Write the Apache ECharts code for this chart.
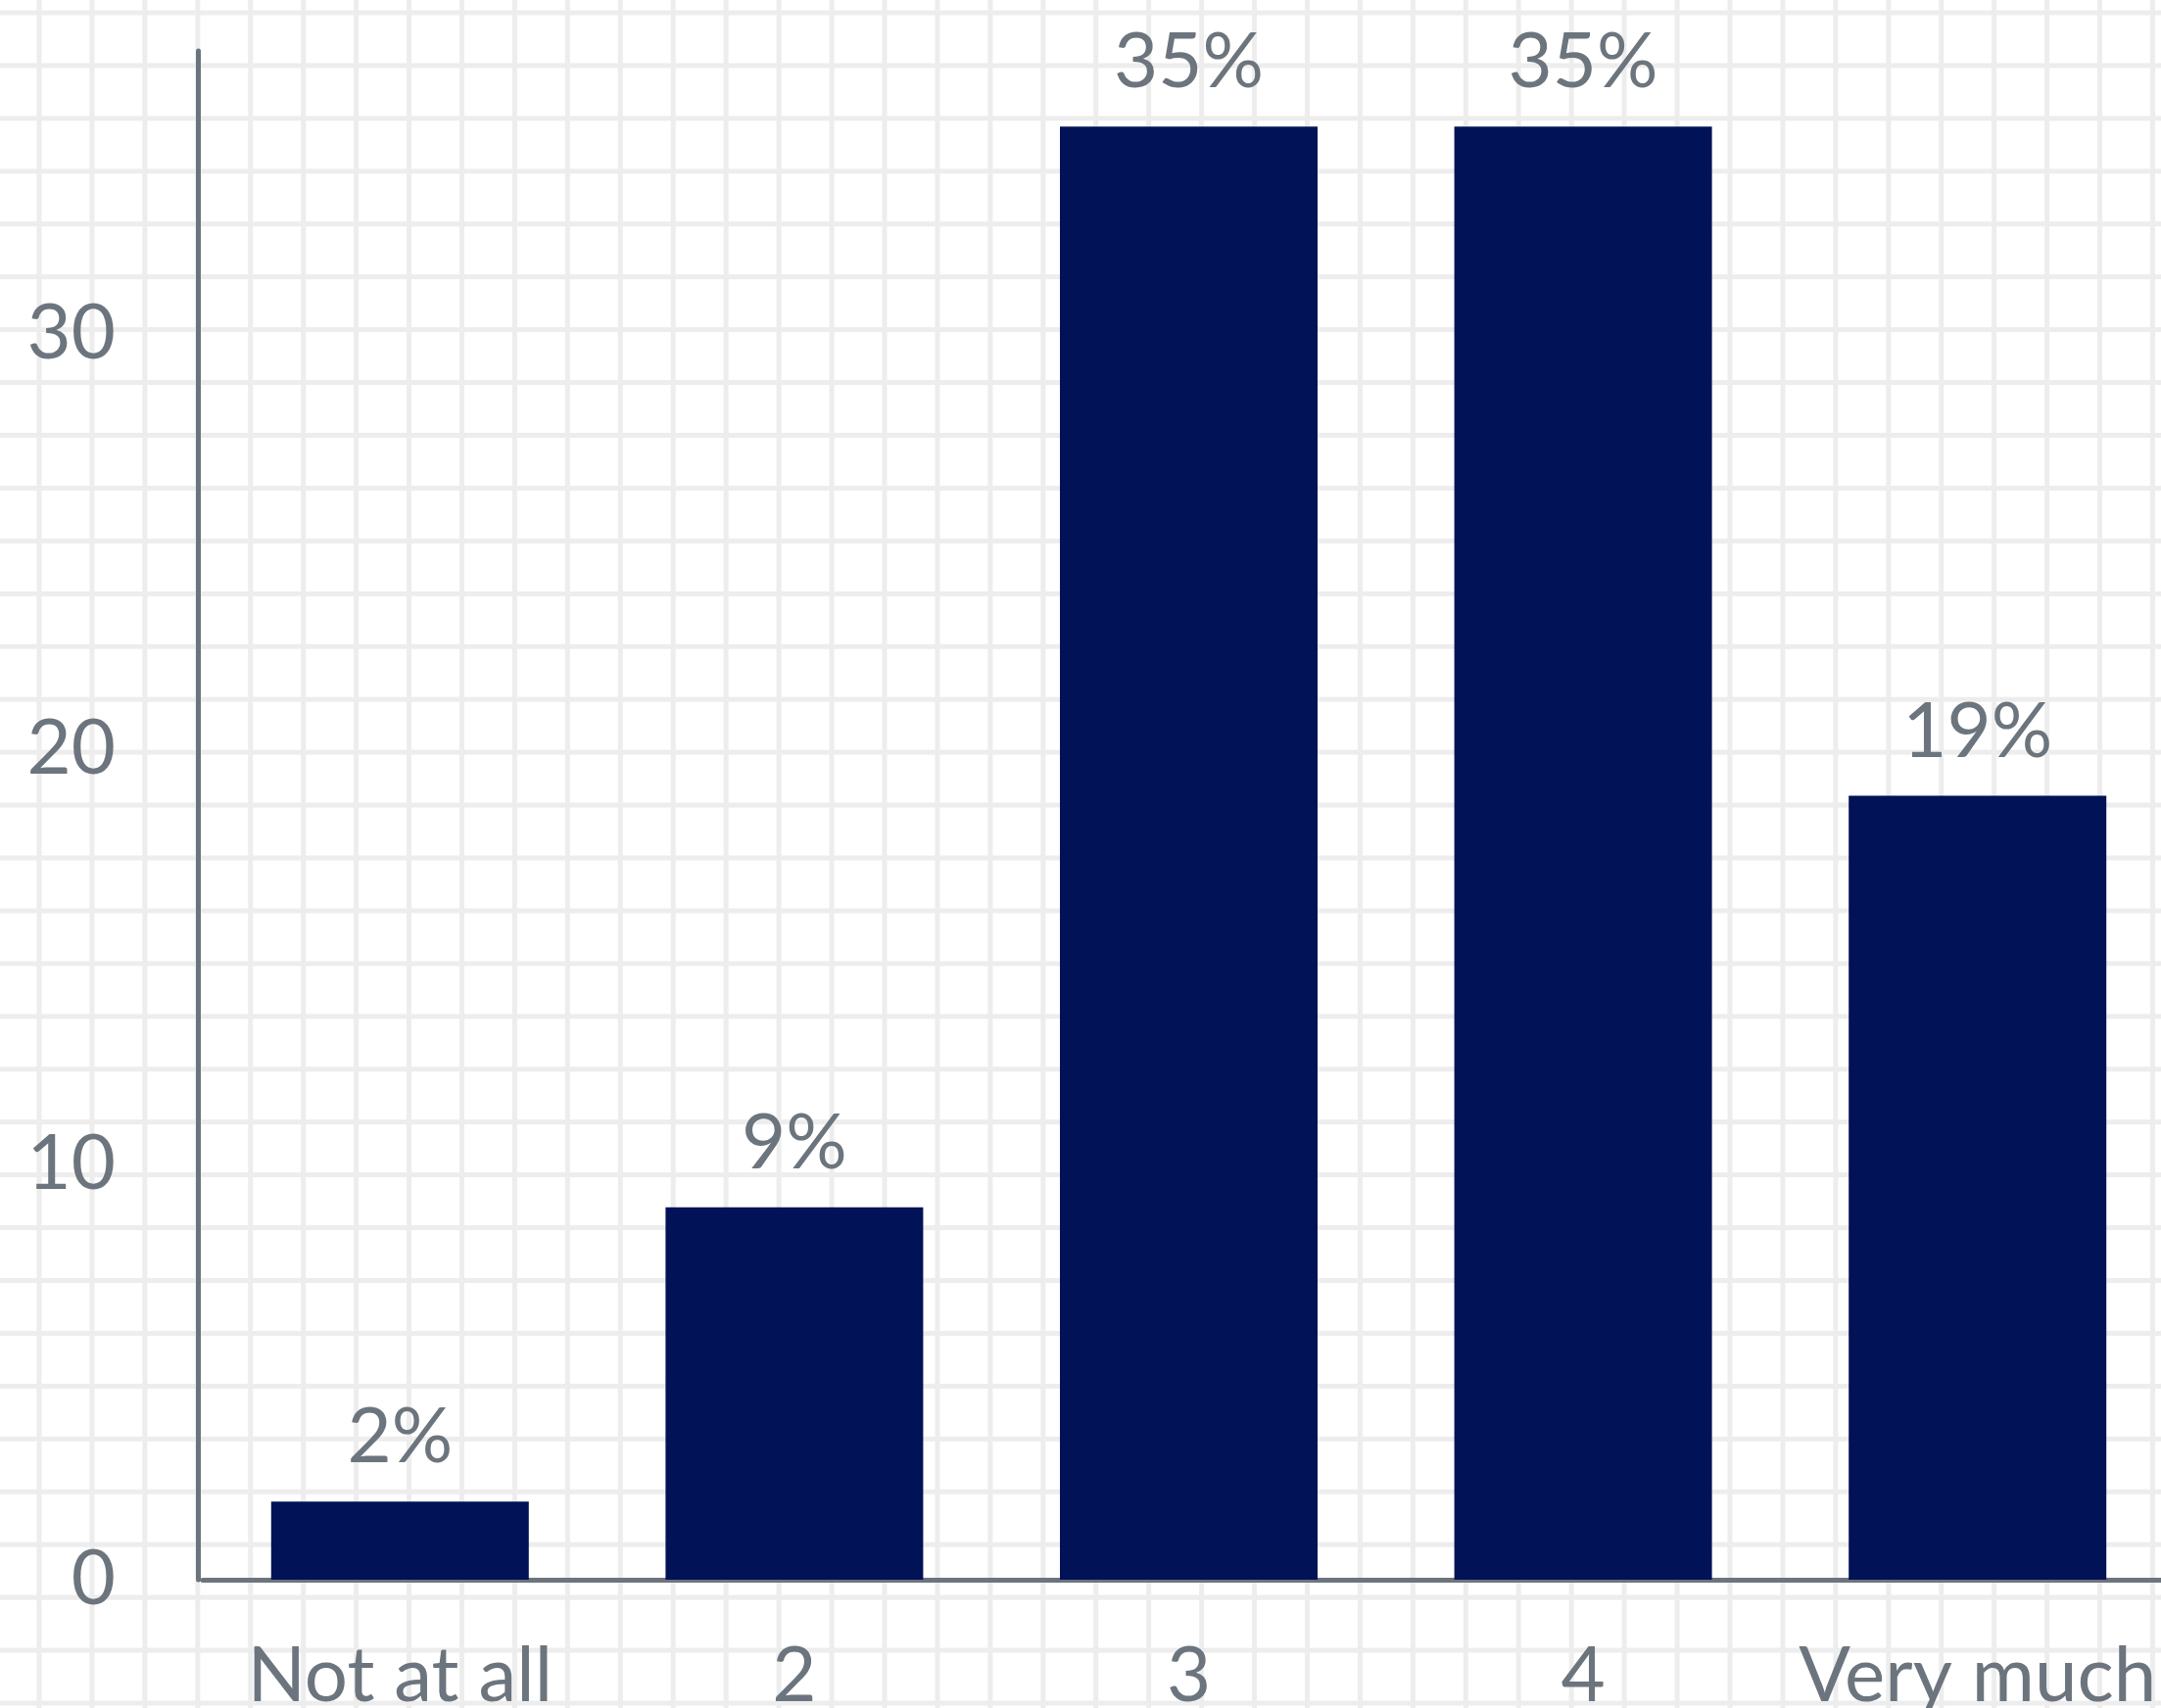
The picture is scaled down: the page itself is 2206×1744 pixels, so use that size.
<!DOCTYPE html>
<html>
<head>
<meta charset="utf-8">
<script src="https://cdn.jsdelivr.net/npm/echarts@6/dist/echarts.min.js"></script>
<style>
  html, body { margin: 0; padding: 0; }
  body {
    width: 2206px; height: 1744px; overflow: hidden;
    background-color: #ffffff;
    /* graph paper look */
    background-image:
      linear-gradient(to right, #ededed 5px, transparent 5px),
      linear-gradient(to bottom, #ededed 5px, transparent 5px);
    background-size: 53.95px 53.95px;
    background-position: 37.5px 10.5px;
  }
  #chart { width: 2206px; height: 1744px; }
</style>
</head>
<body>
<div id="chart"></div>
<script>
var categories = ['Not at all', '2', '3', '4', 'Very much'];
var values = [1.88, 8.97, 35, 35, 18.88];
var yTicks = [0, 10, 20, 30];

var textColor = '#6c757d';
var barColor = '#021256';
var fontSize = 78;

var myChart = echarts.init(document.getElementById('chart'), null, { renderer: 'canvas' });

var option = {
    animation: false,
    backgroundColor: 'transparent',
    grid: {
        left: 207, top: 52, width: 2013, bottom: 131,
        containLabel: false,
        outerBoundsMode: 'none'
    },
    xAxis: {
        type: 'category',
        data: categories,
        axisTick: { show: false },
        axisLine: { lineStyle: { color: textColor, width: 5 } },
        axisLabel: {
            color: textColor,
            fontFamily: 'Lato',
            fontSize: fontSize,
            lineHeight: 80,
            margin: 59,
            interval: 0
        },
        splitLine: { show: false }
    },
    yAxis: {
        type: 'value',
        min: 0,
        max: 36.82,
        interval: 10,
        offset: 5,
        axisLine: { show: true, lineStyle: { color: textColor, width: 5 } },
        axisTick: { show: false },
        splitLine: { show: false },
        axisLabel: {
            color: textColor,
            fontFamily: 'Lato',
            fontSize: fontSize,
            lineHeight: 80,
            margin: 84,
            padding: [17, 0, 0, 0],
            showMaxLabel: false,
            formatter: function (v) {
                return yTicks.indexOf(v) >= 0 ? String(v) : '';
            }
        }
    },
    series: [{
        type: 'bar',
        data: values,
        barWidth: 263,
        itemStyle: { color: barColor },
        label: {
            show: true,
            position: 'top',
            distance: 25,
            color: textColor,
            fontFamily: 'Lato',
            fontSize: fontSize,
            lineHeight: 80,
            formatter: function (p) { return Math.round(p.value) + '%'; }
        }
    }]
};

myChart.setOption(option);
</script>
</body>
</html>
